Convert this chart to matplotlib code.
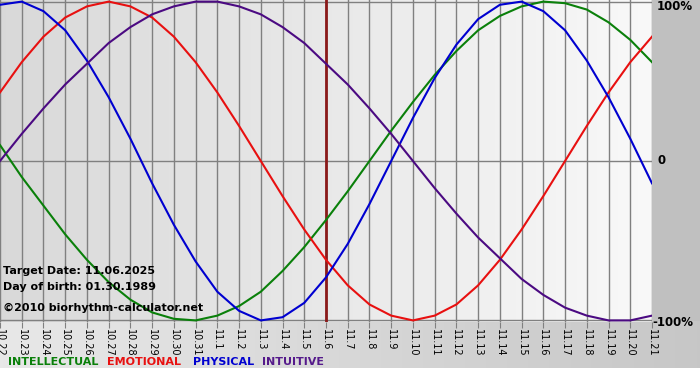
import numpy as np
import matplotlib.pyplot as plt

# day labels 10.22 .. 11.21
dates = ['10.22', '10.23', '10.24', '10.25', '10.26', '10.27', '10.28', '10.29', '10.30', '10.31',
         '11.1', '11.2', '11.3', '11.4', '11.5', '11.6', '11.7', '11.8', '11.9', '11.10',
         '11.11', '11.12', '11.13', '11.14', '11.15', '11.16', '11.17', '11.18', '11.19', '11.20', '11.21']

physical = [0.98, 1.00, 0.94, 0.82, 0.63, 0.40, 0.14, -0.14, -0.40, -0.63, -0.82, -0.94, -1.00, -0.98,
            -0.89, -0.73, -0.52, -0.27, 0.00, 0.27, 0.52, 0.73, 0.89, 0.98, 1.00, 0.94, 0.82, 0.63,
            0.40, 0.14, -0.14]
emotional = [0.43, 0.62, 0.78, 0.90, 0.97, 1.00, 0.97, 0.90, 0.78, 0.62, 0.43, 0.22, 0.00, -0.22,
             -0.43, -0.62, -0.78, -0.90, -0.97, -1.00, -0.97, -0.90, -0.78, -0.62, -0.43, -0.22,
             0.00, 0.22, 0.43, 0.62, 0.78]
intellectual = [0.10, -0.10, -0.28, -0.46, -0.62, -0.76, -0.87, -0.95, -0.99, -1.00, -0.97, -0.91,
                -0.82, -0.69, -0.54, -0.37, -0.19, 0.00, 0.19, 0.37, 0.54, 0.69, 0.82, 0.91, 0.97,
                1.00, 0.99, 0.95, 0.87, 0.76, 0.62]
intuitive = [0.00, 0.17, 0.33, 0.48, 0.61, 0.74, 0.84, 0.92, 0.97, 1.00, 1.00, 0.97, 0.92, 0.84,
             0.74, 0.61, 0.48, 0.33, 0.17, 0.00, -0.17, -0.33, -0.48, -0.61, -0.74, -0.84, -0.92,
             -0.97, -1.00, -1.00, -0.97]

target_idx = 15
info = ['Target Date: 11.06.2025', 'Day of birth: 01.30.1989']
credit = '\u00a92010 biorhythm-calculator.net'

W, H = 700, 380
fig = plt.figure(figsize=(W / 100, H / 100), dpi=100)
fig.patch.set_facecolor('white')

# background layer in pixel coords
bg = fig.add_axes([0, 0, 1, 1], zorder=-1)
bg.set_xlim(0, W)
bg.set_ylim(H, 0)
bg.axis('off')
grad = np.linspace(0.91, 0.78, 256).reshape(1, -1)
bg.imshow(np.dstack([grad] * 3), extent=(0, W, 368, 321), aspect='auto')
bg.fill_between([652, W], 0, 321, color='#c0c0c0', lw=0)

x = np.arange(len(dates))
ax = fig.add_axes([0, (H - 322) / H, 652 / W, 322 / H])
ax.set_xlim(0, len(dates) - 1)
ax.set_ylim(-1.01, 1.01)
pg = np.linspace(0.85, 0.975, 256).reshape(1, -1)
ax.imshow(np.dstack([pg] * 3), extent=(0, len(dates) - 1, -1.01, 1.01), aspect='auto', zorder=0)

for xi in x:
    ax.axvline(xi, color='#808080', lw=1, zorder=1)
for yv in [1, 0, -1]:
    ax.axhline(yv, color='#808080', lw=1, zorder=1)

ax.axvline(target_idx, color='#8b1a1a', lw=2, zorder=2)

ax.plot(x, intellectual, color='#0a800a', lw=1.5, zorder=3)
ax.plot(x, emotional, color='#e81010', lw=1.5, zorder=3)
ax.plot(x, physical, color='#0000d0', lw=1.5, zorder=3)
ax.plot(x, intuitive, color='#4b0a82', lw=1.5, zorder=3)

ax.set_xticks(x)
ax.set_xticklabels(dates, rotation=-90, fontsize=7)
ax.tick_params(axis='x', length=4, color='#808080', pad=1)
ax.set_yticks([])
for s in ax.spines.values():
    s.set_visible(False)


def ptext(px, py, s, **kw):
    # place text on top of everything, using pixel coords from top-left
    fig.text(px / W, 1 - py / H, s, fontweight='bold', va='center', ha='left', **kw)


for i, t in enumerate(info):
    ptext(3, 271 + i * 16, t, fontsize=8)
ptext(3, 308, credit, fontsize=8)

ptext(657, 7, '100%', fontsize=8.5)
ptext(658, 161, '0', fontsize=8.5)
ptext(652, 322, '-100%', fontsize=8.5)

legend = [('INTELLECTUAL', '#0a800a', 8), ('EMOTIONAL', '#e81010', 107),
          ('PHYSICAL', '#0000d0', 193), ('INTUITIVE', '#551a8b', 262)]
for name, col, px in legend:
    ptext(px, 362, name, color=col, fontsize=8)

fig.savefig('out.png', dpi=100)
